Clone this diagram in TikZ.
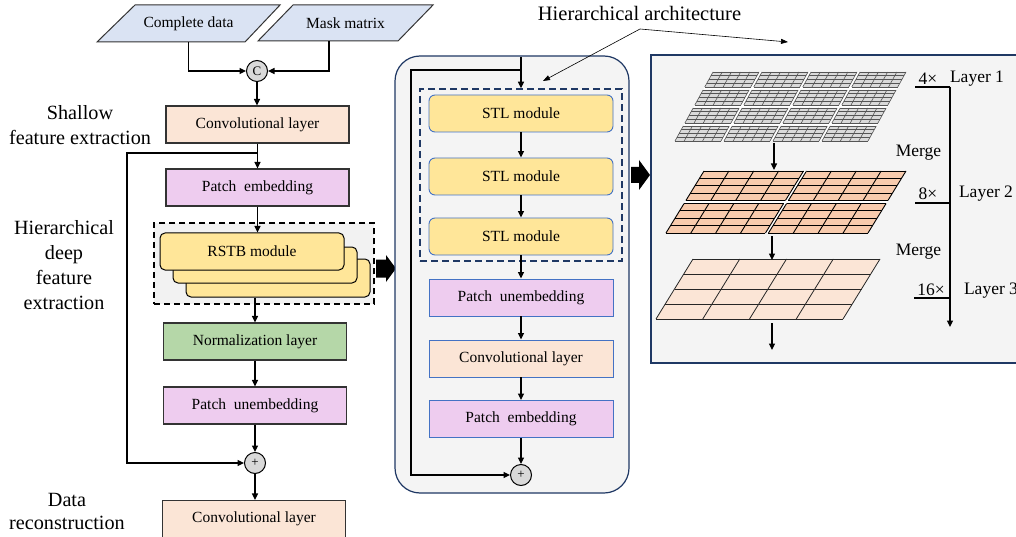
\documentclass[tikz,border=0pt]{standalone}
\usepackage{fontspec}
\setmainfont{Liberation Serif}
\usetikzlibrary{arrows.meta,calc}
\definecolor{pblue}{HTML}{DAE3F3}
\definecolor{convc}{HTML}{FBE5D6}
\definecolor{pembc}{HTML}{EECCEF}
\definecolor{rstbc}{HTML}{FFE699}
\definecolor{normc}{HTML}{B5D7A8}
\definecolor{panelc}{HTML}{F4F4F4}
\definecolor{dboxc}{HTML}{F2F2F2}
\definecolor{navy}{HTML}{1F3864}
\definecolor{bluel}{HTML}{4472C4}
\definecolor{circfill}{HTML}{D9D9D9}
\definecolor{dline}{HTML}{333333}
\definecolor{ltwofill}{HTML}{F8CBAD}
\definecolor{lthreefill}{HTML}{FBE5D6}
\definecolor{gridgray}{HTML}{DADADA}
\definecolor{gridline}{HTML}{555555}
\newcommand{\boxfont}{\fontsize{15.5}{18}\selectfont}
\newcommand{\pgridblk}[9]{%
  \fill[#8] (#1,#2) -- ({#1+#3},#2) -- ({#1+#3-#5},{#2+#4}) -- ({#1-#5},{#2+#4}) -- cycle;
  \foreach \gi in {0,...,#6}{\draw[#9] ({#1+\gi*#3/#6},#2) -- ({#1+\gi*#3/#6-#5},{#2+#4});}
  \foreach \gj in {0,...,#7}{\draw[#9] ({#1-\gj*#5/#7},{#2+\gj*#4/#7}) -- ({#1+#3-\gj*#5/#7},{#2+\gj*#4/#7});}
}
\tikzset{
  conn/.style={draw=black, line width=1.2pt, -{Triangle[length=6.5pt,width=6pt]}},
  plainline/.style={draw=black, line width=1.2pt},
  thinarr/.style={draw=black, line width=0.6pt, -{Triangle[length=7pt,width=5pt]}},
  parafill/.style={draw=dline, line width=1pt, fill=pblue},
  paranode/.style={inner sep=0pt, minimum width=110pt, minimum height=37pt, font=\boxfont},
  lbox/.style={draw=dline, line width=1.1pt, minimum width=183pt, minimum height=37pt,
    inner sep=0pt, font=\boxfont},
  bbox/.style={draw=bluel, line width=0.9pt, minimum width=184pt, minimum height=37pt,
    inner sep=0pt, font=\boxfont},
  sbox/.style={bbox, rounded corners=6pt, fill=rstbc},
  rbox/.style={draw=black, line width=1pt, rounded corners=5pt, fill=rstbc,
    minimum width=184pt, minimum height=37pt, inner sep=0pt, font=\boxfont},
  circnode/.style={circle, draw=black, line width=1pt, fill=circfill, minimum size=21pt,
    inner sep=0pt, font=\fontsize{13}{13}\selectfont},
  sidelab/.style={align=center, font=\fontsize{20.2}{24.5}\selectfont},
  scalelab/.style={font=\fontsize{17.5}{20}\selectfont},
}
\begin{document}
\begin{tikzpicture}[x=1pt,y=-1pt]
\useasboundingbox (0,0) rectangle (1016,537);
\fill[white] (0,0) rectangle (1016,537);

% ---------------- left column ----------------
\draw[parafill] (135,5) -- (280,5) -- (245,42) -- (97,42) -- cycle;
\draw[parafill] (293,5) -- (433,5) -- (398,41) -- (258,41) -- cycle;
\node[paranode] (cd) at (188.5,23.5) {Complete data};
\node[paranode, minimum height=36pt] (mm) at (345.5,23) {Mask matrix};
\node[circnode] (cC) at (257,71) {C};
\draw[conn] (cd.south) |- (cC.west);
\draw[conn] ([xshift=-16.5pt]mm.south) |- (cC.east);

\node[lbox, fill=convc] (conv1) at (257.5,124.5) {Convolutional layer};
\draw[conn] (cC.south) -- (cC.south |- conv1.north);
\node[lbox, fill=pembc] (pe1) at (257.5,187.5) {Patch\ \ embedding};
\coordinate (sp1) at (257.5,153);
\coordinate (sk1) at (127,153);
\draw[conn] (conv1.south) -- (pe1.north);

\node[draw=black, dashed, dash pattern=on 6pt off 4pt, line width=1.3pt, fill=dboxc,
  minimum width=220pt, minimum height=81pt] (db) at (264,263.5) {};
\node[rbox, minimum height=38pt] (r3) at (278,278) {};
\node[rbox, minimum height=36pt] (r2) at (265,265) {};
\node[rbox] (r1) at (252,251.5) {RSTB module};
\draw[conn] (pe1.south) -- (pe1.south |- r1.north);

\node[lbox, fill=normc] (nl) at (255,341.5) {Normalization layer};
\draw[conn] (nl.north |- r3.south) -- (nl.north);
\node[lbox, fill=pembc] (pu1) at (255,405.5) {Patch\ \ unembedding};
\draw[conn] (nl.south) -- (pu1.north);
\node[circnode] (p1) at (255,463) {+};
\draw[conn] (pu1.south) -- (p1.north);
\node[lbox, fill=convc] (conv2) at (254,519) {Convolutional layer};
\draw[conn] (p1.south) -- (p1.south |- conv2.north);
\draw[conn] (sp1) -- (sk1) |- (p1.west);

\node[sidelab] (lab1) at (80,125) {Shallow\\feature extraction};
\node[sidelab, font=\fontsize{20.2}{25}\selectfont] (lab2) at (64,265.5) {Hierarchical\\deep\\feature\\extraction};
\node[sidelab, font=\fontsize{20.2}{23}\selectfont] (lab3) at (67,511.5) {Data\\reconstruction};

% big arrow 1
\fill[black] (376,259.5) -- (386,259.5) -- (386,255) -- (396,268.5) -- (386,282) -- (386,277.5) -- (376,277.5) -- cycle;

% ---------------- middle panel ----------------
\node[draw=navy, line width=1.2pt, fill=panelc, rounded corners=25pt,
  minimum width=234pt, minimum height=437pt] (mp) at (512,274.5) {};
\coordinate (mtop) at (521,57);
\coordinate (msp) at (521,70);
\coordinate (msk) at (411,70);
\node[draw=navy, dashed, dash pattern=on 7pt off 4pt, line width=1.5pt,
  minimum width=202pt, minimum height=172pt] (md) at (521,175) {};
\node[sbox] (s1) at (521,113.5) {STL module};
\node[sbox] (s2) at (521,176.5) {STL module};
\node[sbox] (s3) at (521,236.5) {STL module};
\draw[conn] (mtop) -- (md.north);
\draw[conn] (s1.south) -- (s2.north);
\draw[conn] (s2.south) -- (s3.north);
\node[bbox, fill=pembc] (pu2) at (521,297.5) {Patch\ \ unembedding};
\node[bbox, fill=convc] (cv3) at (521,358.5) {Convolutional layer};
\node[bbox, fill=pembc] (pe2) at (521,419) {Patch\ \ embedding};
\node[circnode] (p2) at (521,475) {+};
\draw[conn] (s3.south) -- (pu2.north);
\draw[conn] (pu2.south) -- (cv3.north);
\draw[conn] (cv3.south) -- (pe2.north);
\draw[conn] (pe2.south) -- (p2.north);
\draw[conn] (msp) -- (msk) |- (p2.west);

% big arrow 2
\fill[black] (631,167) -- (639,167) -- (639,160) -- (650,175) -- (639,190) -- (639,183) -- (631,183) -- cycle;

% ---------------- right panel ----------------
\node[draw=navy, line width=1.5pt, fill=panelc, minimum width=379pt, minimum height=308pt] (rp) at (840.5,209) {};

% annotation
\node[font=\fontsize{20.5}{24}\selectfont] (ha) at (639.5,13) {Hierarchical architecture};
\coordinate (hj) at (640,29);
\coordinate (ta) at (543,81);
\coordinate (tb) at (788,42);
\draw[thinarr] (hj) -- (ta);
\draw[thinarr] (hj) -- (tb);

% layer 1
\fill[white] (713,72) -- (906,72) -- (868,141) -- (675,141) -- cycle;
\foreach \bi in {0,1,2,3}{\foreach \bj in {0,1,2,3}{%
  \pgfmathsetmacro\bx{713+\bi*49-0.551*\bj*18}%
  \pgfmathsetmacro\by{72+\bj*18}%
  \pgridblk{\bx}{\by}{46}{15}{8.26}{5}{4}{fill=gridgray}{draw=gridline,line width=0.6pt}
}}
% layer 2
\fill[white] (704,171) -- (906,171) -- (868,233) -- (666,233) -- cycle;
\foreach \bi in {0,1}{\foreach \bj in {0,1}{%
  \pgfmathsetmacro\bx{704+\bi*102.5-0.613*\bj*32.5}%
  \pgfmathsetmacro\by{171+\bj*32.5}%
  \pgridblk{\bx}{\by}{99.5}{29.5}{18.1}{4}{4}{fill=ltwofill}{draw=black,line width=0.9pt}
}}
% layer 3
\pgridblk{693}{259}{187}{60}{37}{4}{4}{fill=lthreefill}{draw=black!85,line width=0.8pt}

\coordinate (a1s) at (774,143);
\coordinate (a1e) at (774,170);
\coordinate (a2s) at (772,236);
\coordinate (a2e) at (772,260);
\coordinate (a3s) at (772,323);
\coordinate (a3e) at (772,350);
\draw[conn] (a1s) -- (a1e);
\draw[conn] (a2s) -- (a2e);
\draw[conn] (a3s) -- (a3e);

% scale
\coordinate (sc0) at (950,87);
\coordinate (sc1) at (950,327);
\coordinate (tk1) at (915,87);
\coordinate (sm2) at (950,203);
\coordinate (tk2) at (915,203);
\coordinate (sm3) at (950,298);
\coordinate (tk3) at (914,298);
\draw[conn] (sc0) -- (sc1);
\draw[plainline] (tk1) -- (sc0);
\draw[plainline] (tk2) -- (sm2);
\draw[plainline] (tk3) -- (sm3);
\node[scalelab] (x4) at (928,79) {4×};
\node[scalelab] (ly1) at (977,79) {Layer 1};
\node[scalelab] (mg1) at (918.5,153) {Merge};
\node[scalelab] (x8) at (928,194) {8×};
\node[scalelab] (ly2) at (986,194) {Layer 2};
\node[scalelab] (mg2) at (918.5,252) {Merge};
\node[scalelab] (x16) at (931,290) {16×};
\node[scalelab] (ly3) at (991,291) {Layer 3};
\end{tikzpicture}
\end{document}
